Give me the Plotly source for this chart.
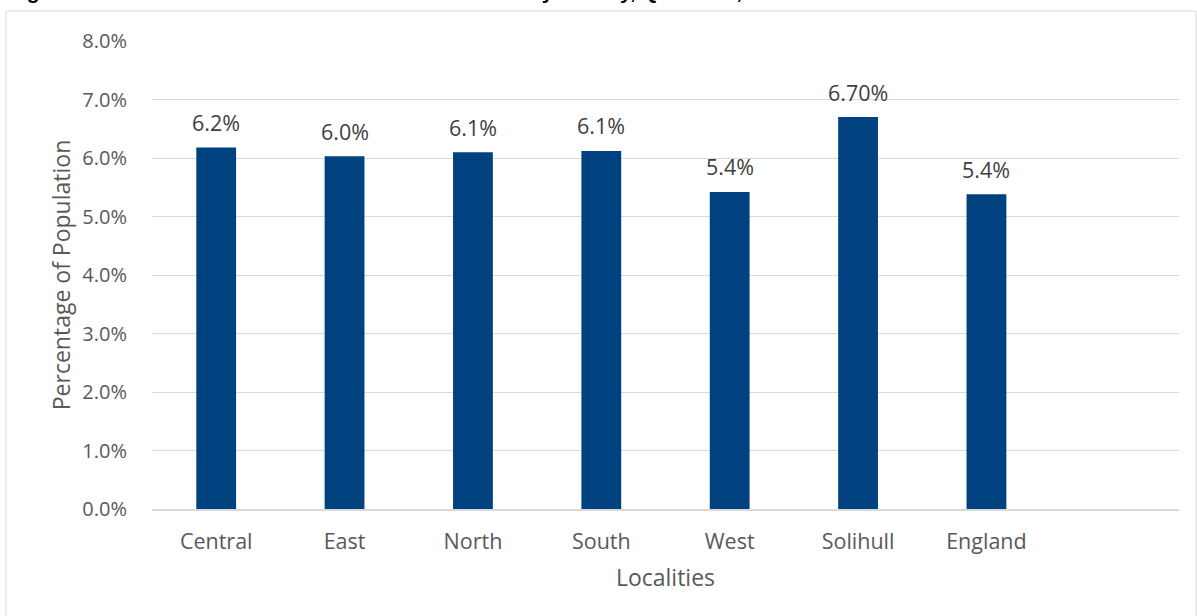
import plotly.graph_objects as go

categories = ["Central", "East", "North", "South", "West", "Solihull", "England", " "]
values = [6.18, 6.03, 6.10, 6.12, 5.42, 6.70, 5.38, None]
value_labels = ["6.2%", "6.0%", "6.1%", "6.1%", "5.4%", "6.70%", "5.4%", ""]
y_ticks = [0, 1, 2, 3, 4, 5, 6, 7, 8]
y_tick_labels = ["0.0%", "1.0%", "2.0%", "3.0%", "4.0%", "5.0%", "6.0%", "7.0%", "8.0%"]
title_text = "Figure 10: Prevalence of Diabetes Mellitus in Adults by locality, QOF data, 2009/10"

FONT = "Open Sans"
bar_color = "#00427F"

fig = go.Figure()
fig.add_trace(go.Bar(
    x=categories, y=values, marker=dict(color=bar_color, line=dict(width=0)),
    width=0.31, hoverinfo="skip",
))

for c, v, t in zip(categories, values, value_labels):
    if v is None:
        continue
    fig.add_annotation(x=c, y=v, text=t, showarrow=False, yshift=25,
                       yanchor="middle", font=dict(family=FONT, size=21.5, color="#404040"))

# clipped title at very top
fig.add_annotation(xref="paper", yref="paper", x=-0.142, xanchor="left",
                   y=1.064, yanchor="bottom", yshift=6, text="<b>" + title_text + "</b>",
                   showarrow=False, font=dict(family="Liberation Sans", size=21, color="#000000"))

# outer chart border
fig.add_shape(type="rect", xref="paper", yref="paper", x0=-0.1422, x1=1.0166,
              y0=-0.25, y1=1.064, line=dict(color="#D9D9D9", width=1), layer="below")

fig.update_layout(
    width=1197, height=616,
    margin=dict(l=152, r=18, t=41, b=107),
    paper_bgcolor="white", plot_bgcolor="white",
    showlegend=False,
    font=dict(family=FONT, color="#595959"),
    xaxis=dict(
        range=[-0.5, 7.5], showgrid=False, showline=True, linecolor="#D9D9D9", linewidth=2,
        ticks="outside", ticklen=12, tickcolor="rgba(0,0,0,0)",
        tickfont=dict(family=FONT, size=21.5, color="#595959"),
        title=dict(text="Localities", font=dict(family=FONT, size=23, color="#595959"), standoff=16),
        fixedrange=True,
    ),
    yaxis=dict(
        range=[0, 8], tickvals=y_ticks, ticktext=y_tick_labels,
        showgrid=True, gridcolor="#D9D9D9", gridwidth=1, zeroline=False, showline=False,
        ticks="outside", ticklen=20, tickcolor="rgba(0,0,0,0)",
        tickfont=dict(family=FONT, size=20, color="#595959"),
        title=dict(text="Percentage of Population", font=dict(family=FONT, size=23, color="#595959"), standoff=5),
        fixedrange=True,
    ),
)

fig.write_html("out.html", config={"displayModeBar": False},
               post_script="document.body.style.margin='0';document.body.style.overflow='hidden';")
